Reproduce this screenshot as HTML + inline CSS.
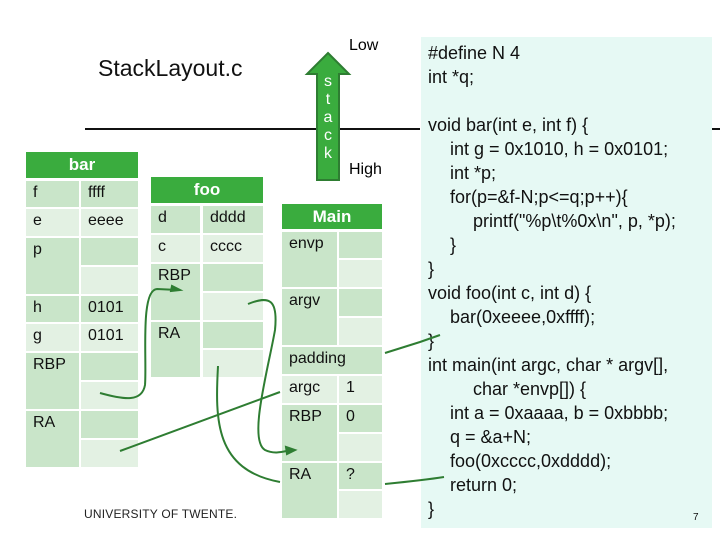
<!DOCTYPE html>
<html><head><style>
body{margin:0;width:720px;height:540px;background:#fff;position:relative;overflow:hidden;font-family:"Liberation Sans",sans-serif;}
.a{position:absolute;box-sizing:border-box;}
.h{background:#3aac3e;color:#fff;font-weight:bold;font-size:17px;text-align:center;}
.d{background:#c9e5c9;}
.l{background:#e3f1e3;}
.t{font-size:16px;color:#111;padding-left:7px;padding-top:3px;}
.code{position:absolute;left:421px;top:37px;width:291px;height:491px;background:#e6f9f4;}
.code div{position:absolute;font-size:18px;color:#111;white-space:pre;letter-spacing:0px;}
</style></head><body>
<div class="a" style="left:98px;top:55px;font-size:23px;color:#111;">StackLayout.c</div>
<div class="a" style="left:85px;top:128px;width:335px;height:2px;background:#111"></div>
<div class="a" style="left:712px;top:128px;width:8px;height:2px;background:#111"></div>
<div class="a" style="left:349px;top:37px;font-size:16px;">Low</div>
<div class="a" style="left:349px;top:161px;font-size:16px;">High</div>
<svg class="a" style="left:300px;top:50px" width="60" height="135"><polygon points="28,3 49,24 39,24 39,130 17,130 17,24 7,24" fill="#3aac3e" stroke="#2e7d32" stroke-width="2"/></svg>
<div class="a" style="left:317px;top:73px;width:22px;text-align:center;color:#fff;font-size:16px;line-height:18px;">s<br>t<br>a<br>c<br>k</div>

<!-- bar -->
<div class="a h" style="left:26px;top:152px;width:112px;height:26px;line-height:26px;">bar</div>
<div class="a d t" style="left:26px;top:181px;width:53px;height:26px;">f</div><div class="a d t" style="left:81px;top:181px;width:57px;height:26px;">ffff</div>
<div class="a l t" style="left:26px;top:209px;width:53px;height:27px;">e</div><div class="a l t" style="left:81px;top:209px;width:57px;height:27px;">eeee</div>
<div class="a d t" style="left:26px;top:238px;width:53px;height:56px;">p</div><div class="a d" style="left:81px;top:238px;width:57px;height:27px;"></div><div class="a l" style="left:81px;top:267px;width:57px;height:27px;"></div>
<div class="a d t" style="left:26px;top:296px;width:53px;height:26px;">h</div><div class="a d t" style="left:81px;top:296px;width:57px;height:26px;">0101</div>
<div class="a l t" style="left:26px;top:324px;width:53px;height:27px;">g</div><div class="a l t" style="left:81px;top:324px;width:57px;height:27px;">0101</div>
<div class="a d t" style="left:26px;top:353px;width:53px;height:56px;">RBP</div><div class="a d" style="left:81px;top:353px;width:57px;height:27px;"></div><div class="a l" style="left:81px;top:382px;width:57px;height:27px;"></div>
<div class="a d t" style="left:26px;top:411px;width:53px;height:56px;">RA</div><div class="a d" style="left:81px;top:411px;width:57px;height:27px;"></div><div class="a l" style="left:81px;top:440px;width:57px;height:27px;"></div>

<!-- foo -->
<div class="a h" style="left:151px;top:177px;width:112px;height:26px;line-height:26px;">foo</div>
<div class="a d t" style="left:151px;top:206px;width:49px;height:27px;">d</div><div class="a d t" style="left:203px;top:206px;width:60px;height:27px;">dddd</div>
<div class="a l t" style="left:151px;top:235px;width:49px;height:27px;">c</div><div class="a l t" style="left:203px;top:235px;width:60px;height:27px;">cccc</div>
<div class="a d t" style="left:151px;top:264px;width:49px;height:56px;">RBP</div><div class="a d" style="left:203px;top:264px;width:60px;height:27px;"></div><div class="a l" style="left:203px;top:293px;width:60px;height:27px;"></div>
<div class="a d t" style="left:151px;top:322px;width:49px;height:55px;">RA</div><div class="a d" style="left:203px;top:322px;width:60px;height:26px;"></div><div class="a l" style="left:203px;top:350px;width:60px;height:27px;"></div>

<!-- main -->
<div class="a h" style="left:282px;top:204px;width:100px;height:25px;line-height:25px;">Main</div>
<div class="a d t" style="left:282px;top:232px;width:55px;height:55px;">envp</div><div class="a d" style="left:339px;top:232px;width:43px;height:26px;"></div><div class="a l" style="left:339px;top:260px;width:43px;height:27px;"></div>
<div class="a d t" style="left:282px;top:289px;width:55px;height:56px;">argv</div><div class="a d" style="left:339px;top:289px;width:43px;height:27px;"></div><div class="a l" style="left:339px;top:318px;width:43px;height:27px;"></div>
<div class="a d t" style="left:282px;top:347px;width:100px;height:27px;">padding</div>
<div class="a l t" style="left:282px;top:376px;width:55px;height:27px;">argc</div><div class="a l t" style="left:339px;top:376px;width:43px;height:27px;">1</div>
<div class="a d t" style="left:282px;top:405px;width:55px;height:56px;">RBP</div><div class="a d t" style="left:339px;top:405px;width:43px;height:27px;">0</div><div class="a l" style="left:339px;top:434px;width:43px;height:27px;"></div>
<div class="a d t" style="left:282px;top:463px;width:55px;height:55px;">RA</div><div class="a d t" style="left:339px;top:463px;width:43px;height:26px;">?</div><div class="a l" style="left:339px;top:491px;width:43px;height:27px;"></div>

<div class="a" style="left:84px;top:507px;font-size:12px;color:#222;letter-spacing:0.2px;">UNIVERSITY OF TWENTE.</div>

<div class="code">
<div style="left:7px;top:6px">#define N 4</div>
<div style="left:7px;top:30px">int *q;</div>
<div style="left:7px;top:78px">void bar(int e, int f) {</div>
<div style="left:29px;top:102px">int g = 0x1010, h = 0x0101;</div>
<div style="left:29px;top:126px">int *p;</div>
<div style="left:29px;top:150px">for(p=&amp;f-N;p&lt;=q;p++){</div>
<div style="left:52px;top:174px">printf("%p\t%0x\n", p, *p);</div>
<div style="left:29px;top:198px">}</div>
<div style="left:7px;top:222px">}</div>
<div style="left:7px;top:246px">void foo(int c, int d) {</div>
<div style="left:29px;top:270px">bar(0xeeee,0xffff);</div>
<div style="left:7px;top:294px">}</div>
<div style="left:7px;top:318px">int main(int argc, char * argv[],</div>
<div style="left:52px;top:342px">char *envp[]) {</div>
<div style="left:29px;top:366px">int a = 0xaaaa, b = 0xbbbb;</div>
<div style="left:29px;top:390px">q = &amp;a+N;</div>
<div style="left:29px;top:414px">foo(0xcccc,0xdddd);</div>
<div style="left:29px;top:438px">return 0;</div>
<div style="left:7px;top:462px">}</div>
<div style="left:272px;top:475px;font-size:10px">7</div>
</div>

<svg class="a" style="left:0;top:0" width="720" height="540" fill="none" stroke="#2e7d32" stroke-width="2">
<path d="M100,393 C125,400 142,402 145,385 C147,360 140,290 157,289 L178,290"/>
<path d="M171,291 L180,290 L172,286 Z" fill="#2e7d32"/>
<path d="M248,304 C270,295 278,300 275,330 C268,370 248,440 265,450 C275,455 285,451 292,450"/>
<path d="M286,447 L295,450 L287,454 Z" fill="#2e7d32"/>
<path d="M120,451 L280,392"/>
<path d="M218,366 C215,420 215,470 280,482"/>
<path d="M385,353 L420,342 L440,335"/>
<path d="M385,484 C405,482 425,480 444,477"/>
</svg>
</body></html>
